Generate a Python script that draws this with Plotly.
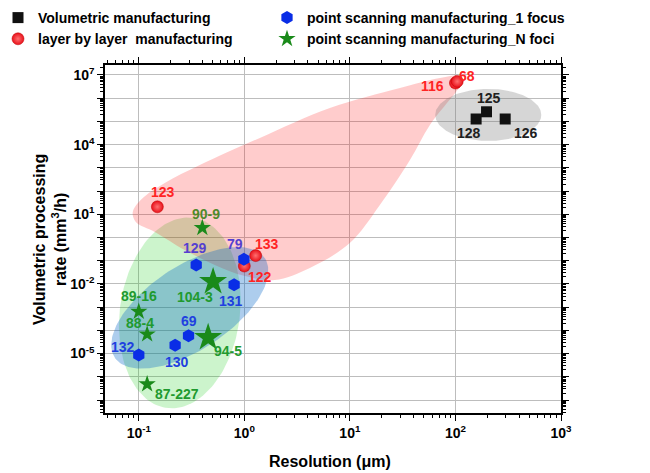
import numpy as np
import plotly.graph_objects as go

# ---------------- data ----------------
vol_labels = ["125", "128", "126"]
vol_x = [197, 157, 296]
vol_y = [2.6e5, 1.27e5, 1.27e5]

layer_labels = ["123", "133", "122", "116", "68"]
layer_x = [0.150, 1.28, 1.0, 100, 104]
layer_y = [21, 0.166, 0.059, 4.5e6, 5.3e6]

one_labels = ["129", "79", "131", "69", "130", "132"]
one_x = [0.35, 0.99, 0.80, 0.296, 0.221, 0.10]
one_y = [0.066, 0.115, 0.0091, 5.8e-5, 2.3e-5, 8.7e-6]

n_labels = ["90-9", "104-3", "89-16", "88-4", "94-5", "87-227"]
n_x = [0.40, 0.506, 0.10, 0.12, 0.454, 0.12]
n_y = [2.6, 0.0126, 6.4e-4, 6.8e-5, 4.9e-5, 4.8e-7]
n_big = [False, True, False, False, True, False]

x_tick_exp = [-1, 0, 1, 2, 3]
y_label_exp = [-5, -2, 1, 4, 7]

# shaded region outline for layer-by-layer (log10 coordinates)
pink_lx = [-1.057, -0.972, -0.754, -0.422, 0.147, 0.810, 1.474, 1.853, 2.024, 2.071,
           2.005, 1.758, 1.569, 1.284, 0.999, 0.621, 0.289, 0.005, -0.280, -0.564,
           -0.848, -1.028, -1.057]
pink_ly = [1.10, 1.66, 2.35, 3.12, 4.29, 5.58, 6.44, 6.87, 6.96, 6.70,
           6.27, 4.85, 3.34, 1.40, -0.24, -1.31, -1.83, -1.66, -1.18, -0.54,
           0.24, 0.67, 1.10]

# ---------------- layout geometry ----------------
W, H = 650, 473
ML, MR, MT, MB = 105, 89, 65, 60
XR = [-1.32, 3.0]
YR = [-7.56, 7.43]
PW = W - ML - MR
PH = H - MT - MB
PX_X = PW / (XR[1] - XR[0])
PX_Y = PH / (YR[1] - YR[0])

FONT = "Liberation Sans, Arial, sans-serif"


def ellipse(clx, cly, a_px, b_px, ang_deg, n=160):
    t = np.linspace(0, 2 * np.pi, n)
    th = np.radians(ang_deg)
    dx = a_px * np.cos(t) * np.cos(th) - b_px * np.sin(t) * np.sin(th)
    dy = a_px * np.cos(t) * np.sin(th) + b_px * np.sin(t) * np.cos(th)
    return 10 ** (clx + dx / PX_X), 10 ** (cly + dy / PX_Y)


fig = go.Figure()

# regions
gx, gy = ellipse(-0.611, -3.25, 96, 60, 82)
fig.add_trace(go.Scatter(x=gx, y=gy, fill="toself", mode="lines", line=dict(width=0),
                         fillcolor="rgba(0,200,0,0.2)", showlegend=False, hoverinfo="skip"))
fig.add_trace(go.Scatter(x=[10 ** v for v in pink_lx], y=[10 ** v for v in pink_ly],
                         fill="toself", mode="lines", line=dict(width=0, shape="spline", smoothing=1.0),
                         fillcolor="rgba(255,0,0,0.2)", showlegend=False, hoverinfo="skip"))
bx, by = ellipse(-0.517, -3.03, 90, 42, 33.5)
fig.add_trace(go.Scatter(x=bx, y=by, fill="toself", mode="lines", line=dict(width=0),
                         fillcolor="rgba(0,100,200,0.32)", showlegend=False, hoverinfo="skip"))
kx, ky = ellipse(2.311, 5.28, 53, 26, 0)
fig.add_trace(go.Scatter(x=kx, y=ky, fill="toself", mode="lines", line=dict(width=0),
                         fillcolor="rgba(120,120,120,0.3)", showlegend=False, hoverinfo="skip"))

# markers
fig.add_trace(go.Scatter(x=vol_x, y=vol_y, mode="markers", name="Volumetric manufacturing",
                         marker=dict(symbol="square", size=11, color="#111111"), legend="legend"))
fig.add_trace(go.Scatter(x=layer_x, y=layer_y, mode="markers", name="layer by layer  manufacturing",
                         marker=dict(symbol="circle", size=12, color="#e8101a",
                                     gradient=dict(type="radial", color="#ff7070"),
                                     line=dict(width=0.5, color="#c00000")), legend="legend"))
fig.add_trace(go.Scatter(x=one_x, y=one_y, mode="markers", name="point scanning manufacturing_1 focus",
                         marker=dict(symbol="hexagon", size=13, color="#0a2de6"), legend="legend2"))
small_x = [x for x, b in zip(n_x, n_big) if not b]
small_y = [y for y, b in zip(n_y, n_big) if not b]
big_x = [x for x, b in zip(n_x, n_big) if b]
big_y = [y for y, b in zip(n_y, n_big) if b]
fig.add_trace(go.Scatter(x=small_x, y=small_y, mode="markers", name="point scanning manufacturing_N foci",
                         marker=dict(symbol="star", size=13, color="#1a8a1a"), legend="legend2"))
fig.add_trace(go.Scatter(x=big_x, y=big_y, mode="markers", showlegend=False,
                         marker=dict(symbol="star", size=21, color="#1a8a1a")))

# label styling: offset (px right, px up) and colour
label_style = {
    "125": (2, 14, "#202020"), "128": (-7, -14, "#202020"), "126": (21, -14, "#202020"),
    "123": (6, 15, "#ff2424"), "133": (11, 12, "#ff2424"), "122": (16, -11, "#ff2424"),
    "116": (-23, -3, "#ff2424"), "68": (10, 5, "#ff2424"),
    "129": (-1, 17, "#5540d0"), "79": (-9, 15, "#5540d0"), "131": (-3, -16, "#2040e0"),
    "69": (0, 15, "#2040e0"), "130": (2, -17, "#2040e0"), "132": (-16, 8, "#2040e0"),
    "90-9": (4, 14, "#4f8a2a"), "104-3": (-18, -15, "#1f9a2f"), "89-16": (0, 16, "#1f9a2f"),
    "88-4": (-7, 11, "#1f9a2f"), "94-5": (20, -13, "#1f9a2f"), "87-227": (30, -10, "#1f9a2f"),
}

for labels, xs, ys in [(vol_labels, vol_x, vol_y), (layer_labels, layer_x, layer_y),
                       (one_labels, one_x, one_y), (n_labels, n_x, n_y)]:
    for lab, xv, yv in zip(labels, xs, ys):
        dx, dy, col = label_style[lab]
        fig.add_annotation(x=np.log10(xv), y=np.log10(yv), text=lab, showarrow=False,
                           xshift=dx, yshift=dy,
                           font=dict(family=FONT, size=14, color=col, weight="bold"))

# ticks
x_tickvals = [10.0 ** e for e in x_tick_exp]
x_ticktext = ["10<sup>%d</sup>" % e for e in x_tick_exp]
x_minor = [k * 10.0 ** e for e in range(-2, 3) for k in range(2, 10)]
y_decades = list(range(-7, 8))
y_tickvals = [10.0 ** e for e in y_decades]
y_ticktext = [("10<sup>%d</sup>" % e) if e in y_label_exp else "" for e in y_decades]
y_minor = [k * 10.0 ** e for e in range(-8, 8) for k in range(2, 10)]

axis_common = dict(type="log", showline=True, linecolor="black", linewidth=1.5, mirror="allticks",
                   ticks="outside", ticklen=6, tickwidth=1.3, tickcolor="black",
                   showgrid=True, gridcolor="#bdbdbd", gridwidth=1.3, zeroline=False,
                   tickfont=dict(family=FONT, size=14, color="black", weight="bold"))

fig.update_xaxes(range=XR, tickmode="array", tickvals=x_tickvals, ticktext=x_ticktext,
                 minor=dict(tickvals=x_minor, ticks="outside", ticklen=3, tickcolor="black", showgrid=False),
                 **axis_common)
fig.update_yaxes(range=YR, tickmode="array", tickvals=y_tickvals, ticktext=y_ticktext,
                 minor=dict(tickvals=y_minor, ticks="outside", ticklen=3, tickcolor="black", showgrid=False),
                 **axis_common)

fig.add_annotation(xref="paper", yref="paper", x=(330 - ML) / PW, y=(H - MB - 461) / PH,
                   xanchor="center", yanchor="middle",
                   text="Resolution (\u03bcm)", showarrow=False,
                   font=dict(family=FONT, size=16, color="black", weight="bold"))
fig.add_annotation(xref="paper", yref="paper", x=(50 - ML) / PW, y=(H - MB - 240) / PH,
                   xanchor="center", yanchor="middle",
                   text="Volumetric processing<br>rate (mm<sup>3</sup>/h)", showarrow=False, textangle=-90,
                   font=dict(family=FONT, size=16, color="black", weight="bold"))

legend_common = dict(bgcolor="rgba(0,0,0,0)", borderwidth=0, orientation="v", yanchor="top", xanchor="left",
                     font=dict(family=FONT, size=14, color="black", weight="bold"), tracegroupgap=0)
fig.update_layout(
    width=W, height=H, margin=dict(l=ML, r=MR, t=MT, b=MB, autoexpand=False),
    paper_bgcolor="white", plot_bgcolor="white",
    legend=dict(x=(-2 - ML) / PW, y=(H - MB - 2) / PH, **legend_common),
    legend2=dict(x=(267 - ML) / PW, y=(H - MB - 2) / PH, **legend_common),
)

fig.write_html("out.html")
